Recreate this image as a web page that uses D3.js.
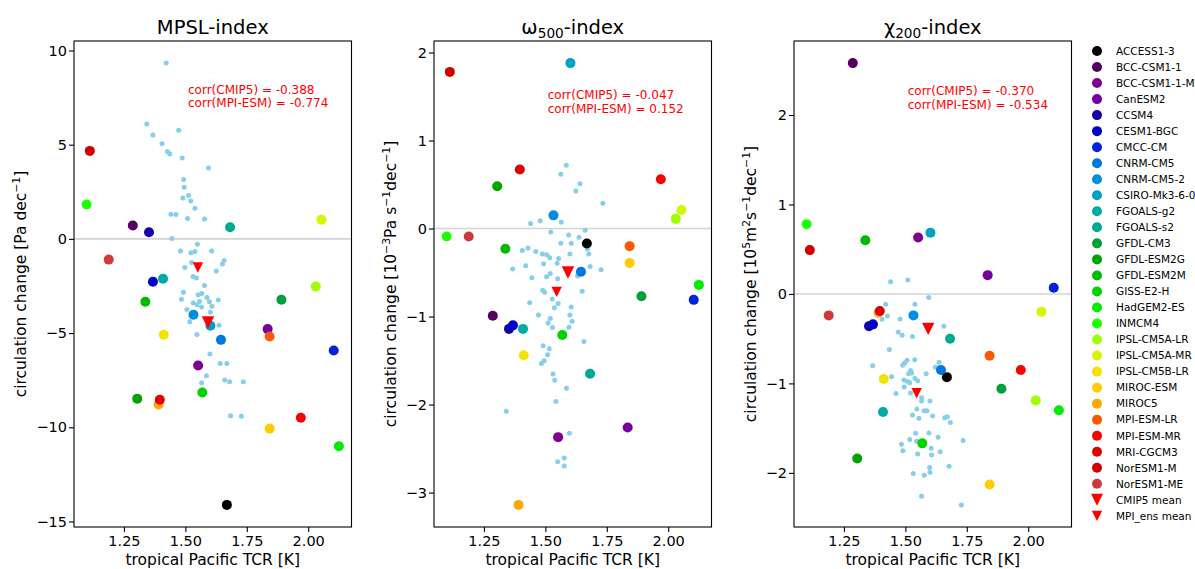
<!DOCTYPE html>
<html>
<head>
<meta charset="utf-8">
<script src="https://cdn.jsdelivr.net/npm/d3@7/dist/d3.min.js"></script>
<style>
  body { margin: 0; background: #fff; }
  text { font-family: "DejaVu Sans", sans-serif; }
</style>
</head>
<body>
<svg id="chart" width="1195" height="569"></svg>
<script>
// ---- CMIP5 models (legend order) ----
const modelNames = ["ACCESS1-3","BCC-CSM1-1","BCC-CSM1-1-M","CanESM2","CCSM4","CESM1-BGC","CMCC-CM",
  "CNRM-CM5","CNRM-CM5-2","CSIRO-Mk3-6-0","FGOALS-g2","FGOALS-s2","GFDL-CM3","GFDL-ESM2G","GFDL-ESM2M",
  "GISS-E2-H","HadGEM2-ES","INMCM4","IPSL-CM5A-LR","IPSL-CM5A-MR","IPSL-CM5B-LR","MIROC-ESM","MIROC5",
  "MPI-ESM-LR","MPI-ESM-MR","MRI-CGCM3","NorESM1-M","NorESM1-ME"];

// tropical Pacific TCR [K] per model
const modelTCR = [1.669,1.286,1.552,1.835,1.352,1.368,2.104,1.645,1.533,1.602,1.409,1.682,1.891,1.304,1.337,
  1.569,2.125,1.098,2.031,2.054,1.412,1.843,1.391,1.843,1.970,1.396,1.111,1.188];

// circulation change per model
const mpslModel = [-14.12,0.71,-6.72,-4.79,0.35,-2.28,-5.92,-5.36,-4.03,-4.61,-2.12,0.62,-3.23,-8.48,-3.34,
  -8.15,-11.01,1.82,-2.53,1.02,-5.09,-10.07,-8.79,-5.18,-9.49,-8.54,4.67,-1.10];
const omegaModel = [-0.17,-0.99,-2.37,-2.26,-1.14,-1.10,-0.81,-0.49,0.15,1.88,-1.14,-1.65,-0.77,0.48,-0.23,
  -1.21,-0.64,-0.09,0.11,0.21,-1.44,-0.39,-3.14,-0.20,0.56,0.67,1.78,-0.09];
const chiModel = [-0.93,2.58,0.63,0.21,-0.36,-0.34,0.07,-0.85,-0.24,0.685,-1.32,-0.50,-1.06,-1.84,0.60,
  -1.67,-1.30,0.78,-1.19,-0.20,-0.95,-2.13,-0.21,-0.69,-0.85,-0.19,0.49,-0.24];

// ---- MPI-ESM ensemble members ----
const mpslEnsX = [1.422,1.343,1.368,1.473,1.405,1.427,1.437,1.487,1.594,1.493,1.495,1.513,1.490,1.522,1.539,
  1.441,1.462,1.509,1.578,1.445,1.549,1.480,1.522,1.539,1.607,1.526,1.498,1.658,1.651,1.626,1.531,1.545,1.578,
  1.492,1.552,1.567,1.588,1.484,1.598,1.608,1.634,1.532,1.548,1.558,1.566,1.506,1.602,1.518,1.637,1.547,1.600,
  1.642,1.669,1.586,1.566,1.660,1.680,1.736,1.684,1.728];
const mpslEnsY = [9.33,6.10,5.51,5.76,5.05,4.64,4.51,4.29,3.76,3.15,2.74,2.30,2.17,2.01,1.62,1.31,1.29,1.08,1.06,
  0.02,-0.28,-0.64,-0.74,-0.67,-0.64,-1.26,-1.52,-1.15,-1.34,-1.70,-2.00,-2.08,-2.48,-2.83,-2.97,-2.90,-3.11,
  -3.20,-3.34,-3.57,-3.25,-3.41,-3.50,-3.32,-3.62,-3.75,-3.89,-4.40,-4.58,-5.07,-6.11,-6.61,-6.61,-7.26,-7.64,
  -7.49,-7.58,-7.58,-9.39,-9.42];

const omegaEnsX = [1.585,1.563,1.641,1.624,1.734,1.440,1.479,1.565,1.522,1.595,1.662,1.637,1.671,1.563,1.605,
  1.406,1.429,1.461,1.488,1.506,1.518,1.600,1.677,1.554,1.548,1.493,1.420,1.367,1.682,1.727,1.520,1.505,1.550,
  1.445,1.631,1.489,1.497,1.650,1.528,1.552,1.537,1.605,1.436,1.472,1.600,1.609,1.520,1.511,1.529,1.596,1.657,
  1.491,1.516,1.509,1.495,1.484,1.531,1.538,1.586,1.543,1.341,1.598,1.577,1.550,1.577];
const omegaEnsY = [0.719,0.617,0.508,0.428,0.288,0.057,0.088,0.072,-0.040,-0.074,-0.020,-0.100,-0.231,-0.168,
  -0.168,-0.248,-0.222,-0.261,-0.290,-0.298,-0.333,-0.290,-0.290,-0.339,-0.394,-0.401,-0.424,-0.460,-0.430,
  -0.469,-0.511,-0.549,-0.570,-0.560,-0.540,-0.701,-0.724,-0.712,-0.801,-0.852,-0.901,-0.890,-0.843,-0.983,
  -0.983,-1.053,-1.023,-1.072,-1.125,-1.122,-1.284,-1.333,-1.367,-1.435,-1.502,-1.534,-1.653,-1.724,-1.815,
  -1.966,-2.076,-2.326,-2.606,-2.650,-2.697];

const chiEnsX = [1.440,1.510,1.595,1.420,1.539,1.427,1.405,1.479,1.657,1.471,1.487,1.529,1.435,1.367,1.507,
  1.497,1.489,1.538,1.637,1.622,1.521,1.513,1.526,1.444,1.585,1.539,1.550,1.494,1.509,1.518,1.495,1.462,1.521,
  1.566,1.566,1.600,1.547,1.577,1.588,1.529,1.555,1.611,1.660,1.671,1.683,1.542,1.596,1.633,1.518,1.484,1.546,
  1.735,1.605,1.490,1.550,1.607,1.642,1.599,1.600,1.577,1.532,1.678,1.566,1.728];
const chiEnsY = [0.137,0.156,-0.041,-0.116,-0.116,-0.246,-0.284,-0.279,-0.362,-0.425,-0.463,-0.477,-0.622,
  -0.804,-0.742,-0.771,-0.798,-0.737,-0.764,-0.820,-0.857,-0.891,-0.883,-0.927,-0.891,-0.946,-0.969,-0.961,
  -0.980,-0.994,-1.039,-1.114,-1.106,-1.159,-1.196,-1.196,-1.285,-1.307,-1.307,-1.352,-1.390,-1.363,-1.385,
  -1.374,-1.438,-1.558,-1.553,-1.602,-1.628,-1.680,-1.647,-1.639,-1.725,-1.754,-1.788,-1.799,-1.765,-1.941,
  -1.993,-2.027,-2.008,-1.926,-2.261,-2.358];

// ---- means: [TCR, circulation change] for MPSL, omega500, chi200 ----
const cmip5Mean = [[1.592,-4.44],[1.592,-0.50],[1.593,-0.39]];
const mpiEnsMean = [[1.551,-1.52],[1.546,-0.72],[1.546,-1.11]];

// ---- correlation annotations ----
const corrCMIP5 = ["-0.388","-0.047","-0.370"];
const corrMPI = ["-0.774","0.152","-0.534"];

// ---- tick labels ----
const tcrTicks = [1.25,1.50,1.75,2.00];
const mpslTicks = [-15,-10,-5,0,5,10];
const omegaTicks = [-3,-2,-1,0,1,2];
const chiTicks = [-2,-1,0,1,2];

// nipy_spectral sampled at i/28 for the 28 models
const modelColors = ["#000000","#550061","#7e008f","#75009c","#1300a8","#0000c7","#0022dd","#0077dd",
  "#008fdd","#00a0c7","#00aaa5","#00aa8d","#00a03a","#00a300","#00bb00","#00d300","#00ec00","#1bff00",
  "#a0ff00","#d8f500","#f3e400","#ffcc00","#ffa800","#ff5700","#fa0000","#e20000","#d30000","#cc3a3a"];
const ensColor = "#87ceeb";

// ---- layout ----
const plotTop = 41, plotBottom = 527, plotW = 277.5;
const panelLeft = [74, 434, 794];
const ylabelX = [26, 396, 756];
const corrPos = [[188, 93.5], [547.7, 99.3], [907.7, 95.3]];
const tickFont = 14.5, labelFont = 15.5, titleFont = 19.5;

const panels = [
  { title: [["MPSL-index", 0]],
    ylabel: [["circulation change [Pa dec", 0], ["\u22121", 1], ["]", 0]],
    model: mpslModel, ensX: mpslEnsX, ensY: mpslEnsY, ticks: mpslTicks },
  { title: [["\u03c9", 0], ["500", -1], ["-index", 0]],
    ylabel: [["circulation change [10", 0], ["\u22123", 1], ["Pa s", 0], ["\u22121", 1], ["dec", 0], ["\u22121", 1], ["]", 0]],
    model: omegaModel, ensX: omegaEnsX, ensY: omegaEnsY, ticks: omegaTicks },
  { title: [["\u03c7", 0], ["200", -1], ["-index", 0]],
    ylabel: [["circulation change [10", 0], ["5", 1], ["m", 0], ["2", 1], ["s", 0], ["\u22121", 1], ["dec", 0], ["\u22121", 1], ["]", 0]],
    model: chiModel, ensX: chiEnsX, ensY: chiEnsY, ticks: chiTicks }
];

const svg = d3.select("#chart");
const fmtInt = v => (v < 0 ? "\u2212" : "") + Math.abs(v);

// autoscaled limits with 5% margins
function padded(values) {
  const [lo, hi] = d3.extent(values);
  const m = (hi - lo) * 0.05;
  return [lo - m, hi + m];
}

// text with raised (1) or lowered (-1) segments
function richText(sel, parts, size) {
  let shift = 0;
  parts.forEach(([txt, mode]) => {
    const target = mode === 1 ? -size * 0.42 : mode === -1 ? size * 0.2 : 0;
    sel.append("tspan")
      .attr("dy", target - shift)
      .attr("font-size", mode === 0 ? size : size * 0.7)
      .text(txt);
    shift = target;
  });
}

function downTriangle(cx, cy, h) {
  return `M${cx - h},${cy - h}L${cx + h},${cy - h}L${cx},${cy + h}Z`;
}

panels.forEach((p, k) => {
  const left = panelLeft[k];
  const g = svg.append("g").attr("transform", `translate(${left},0)`);

  const x = d3.scaleLinear()
    .domain(padded(modelTCR.concat(p.ensX)))
    .range([0, plotW]);
  const y = d3.scaleLinear()
    .domain(padded(p.model.concat(p.ensY)))
    .range([plotBottom, plotTop]);

  // zero line
  g.append("line")
    .attr("x1", 0).attr("x2", plotW)
    .attr("y1", y(0)).attr("y2", y(0))
    .attr("stroke", "#d3d3d3").attr("stroke-width", 1.6);

  // ensemble members
  g.append("g").selectAll("circle")
    .data(p.ensX.map((v, i) => [v, p.ensY[i]]))
    .join("circle")
    .attr("cx", d => x(d[0])).attr("cy", d => y(d[1]))
    .attr("r", 2.5).attr("fill", ensColor);

  // CMIP5 models
  g.append("g").selectAll("circle")
    .data(modelTCR.map((v, i) => [v, p.model[i], modelColors[i]]))
    .join("circle")
    .attr("cx", d => x(d[0])).attr("cy", d => y(d[1]))
    .attr("r", 5).attr("fill", d => d[2]);

  // means
  g.append("path")
    .attr("d", downTriangle(x(cmip5Mean[k][0]), y(cmip5Mean[k][1]), 6.2))
    .attr("fill", "#ff0000");
  g.append("path")
    .attr("d", downTriangle(x(mpiEnsMean[k][0]), y(mpiEnsMean[k][1]), 5.2))
    .attr("fill", "#ff0000");

  // frame
  g.append("rect")
    .attr("x", 0).attr("y", plotTop)
    .attr("width", plotW).attr("height", plotBottom - plotTop)
    .attr("fill", "none").attr("stroke", "#000").attr("stroke-width", 1.1);

  // axes
  const yAxis = g.append("g")
    .call(d3.axisLeft(y).tickValues(p.ticks).tickFormat(fmtInt)
      .tickSize(5).tickSizeOuter(0).tickPadding(2));
  const xAxis = g.append("g").attr("transform", `translate(0,${plotBottom})`)
    .call(d3.axisBottom(x).tickValues(tcrTicks).tickFormat(d3.format(".2f"))
      .tickSize(5).tickSizeOuter(0).tickPadding(4));
  [yAxis, xAxis].forEach(a => {
    a.select(".domain").remove();
    a.selectAll("line").attr("stroke", "#000").attr("stroke-width", 1.1);
    a.selectAll("text").attr("font-size", tickFont)
      .attr("font-family", "DejaVu Sans, sans-serif").attr("fill", "#000");
  });

  // title
  const t = g.append("text")
    .attr("x", plotW / 2).attr("y", 34)
    .attr("text-anchor", "middle").attr("fill", "#000");
  richText(t, p.title, titleFont);

  // x label
  g.append("text")
    .attr("x", plotW / 2).attr("y", 565)
    .attr("text-anchor", "middle").attr("font-size", labelFont).attr("fill", "#000")
    .text("tropical Pacific TCR [K]");

  // y label
  const yl = svg.append("text")
    .attr("transform", `translate(${ylabelX[k]},${(plotTop + plotBottom) / 2}) rotate(-90)`)
    .attr("text-anchor", "middle").attr("fill", "#000");
  richText(yl, p.ylabel, labelFont);

  // correlations
  const [cx, cy] = corrPos[k];
  svg.append("text").attr("x", cx).attr("y", cy)
    .attr("font-size", 12).attr("fill", "#ff0000")
    .text(`corr(CMIP5) = ${corrCMIP5[k]}`);
  svg.append("text").attr("x", cx).attr("y", cy + 13.4)
    .attr("font-size", 12).attr("fill", "#ff0000")
    .text(`corr(MPI-ESM) = ${corrMPI[k]}`);
});

// ---- legend ----
const legendItems = modelNames.map((n, i) => ({ name: n, color: modelColors[i], shape: "circle" }))
  .concat([{ name: "CMIP5 mean", color: "#ff0000", shape: "big" },
           { name: "MPI_ens mean", color: "#ff0000", shape: "small" }]);
const lg = svg.append("g");
legendItems.forEach((it, i) => {
  const cy = 51 + i * 16.03;
  if (it.shape === "circle") {
    lg.append("circle").attr("cx", 1097).attr("cy", cy).attr("r", 5).attr("fill", it.color);
  } else {
    lg.append("path").attr("d", downTriangle(1097, cy, it.shape === "big" ? 6 : 5.2)).attr("fill", it.color);
  }
  lg.append("text").attr("x", 1116).attr("y", cy).attr("dy", "0.36em")
    .attr("font-size", 10.5).attr("fill", "#000").text(it.name);
});
</script>
</body>
</html>
